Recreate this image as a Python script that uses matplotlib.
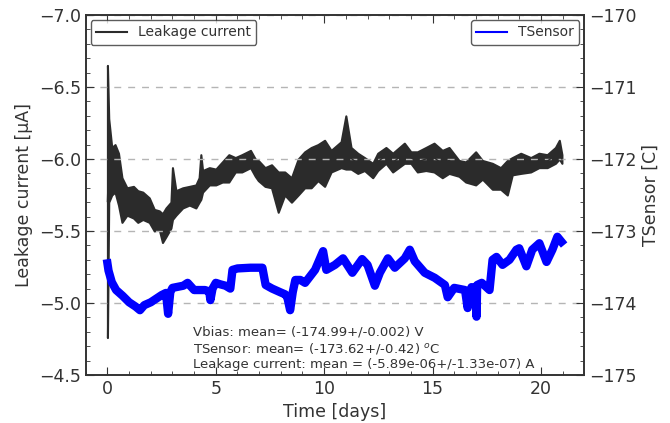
import matplotlib
matplotlib.use("Agg")
import matplotlib.pyplot as plt
from matplotlib.lines import Line2D

# leakage current band (left axis, uA): time, top edge, bottom edge
leak_t = [0.0, 0.06, 0.2, 0.35, 0.51, 0.67, 0.9, 1.2, 1.4, 1.63, 1.93, 2.16, 2.39,
          2.54, 2.7, 2.93, 3.0, 3.16, 3.47, 3.78, 4.08, 4.23, 4.31, 4.39, 4.7, 5.0,
          5.3, 5.6, 5.9, 6.2, 6.6, 6.82, 6.96, 7.27, 7.57, 7.88, 8.18, 8.49, 8.8,
          9.1, 9.4, 9.71, 10.02, 10.32, 10.78, 11.0, 11.24, 11.55, 11.86, 12.24,
          12.47, 12.85, 13.16, 13.7, 14.0, 14.3, 14.69, 15.07, 15.45, 15.76, 16.22,
          16.53, 16.99, 17.3, 17.76, 18.14, 18.45, 18.68, 19.07, 19.53, 19.91,
          20.29, 20.67, 20.85, 20.97]
leak_top = [-6.65, -6.28, -6.08, -6.10, -6.04, -5.87, -5.80, -5.81, -5.78, -5.77, -5.73,
            -5.65, -5.64, -5.62, -5.66, -5.70, -5.94, -5.78, -5.80, -5.81, -5.82, -5.87,
            -6.03, -5.92, -5.94, -5.93, -5.98, -6.03, -6.01, -6.03, -6.06, -6.00, -5.99,
            -5.94, -5.96, -5.91, -5.91, -5.87, -6.00, -6.05, -6.08, -6.10, -6.13, -6.06,
            -6.12, -6.30, -6.08, -6.04, -6.01, -5.97, -6.04, -6.08, -6.04, -6.11, -6.05,
            -6.05, -6.08, -6.11, -6.06, -6.08, -5.99, -5.98, -6.05, -5.99, -5.97, -5.94,
            -5.99, -6.01, -6.04, -6.01, -6.04, -6.03, -6.08, -6.13, -6.03]
leak_bot = [-4.76, -5.70, -5.75, -5.77, -5.68, -5.56, -5.61, -5.59, -5.56, -5.58, -5.56,
            -5.50, -5.51, -5.42, -5.46, -5.52, -5.58, -5.61, -5.66, -5.68, -5.66, -5.70,
            -5.72, -5.77, -5.82, -5.82, -5.84, -5.84, -5.91, -5.91, -5.94, -5.88, -5.85,
            -5.81, -5.80, -5.63, -5.75, -5.70, -5.75, -5.80, -5.80, -5.85, -5.81, -5.91,
            -5.94, -5.93, -5.93, -5.90, -5.92, -5.87, -5.92, -5.97, -5.91, -5.97, -5.97,
            -5.91, -5.92, -5.91, -5.87, -5.90, -5.88, -5.84, -5.82, -5.86, -5.79, -5.79,
            -5.75, -5.89, -5.90, -5.91, -5.94, -5.94, -5.97, -6.00, -5.97]

# sensor temperature (right axis, C)
temp_t = [0.0, 0.05, 0.2, 0.4, 0.7, 1.0, 1.3, 1.5, 1.7, 2.0, 2.2, 2.5, 2.7, 2.8, 2.9,
          3.0, 3.5, 3.7, 4.0, 4.5, 4.7, 4.75, 4.85, 5.0, 5.2, 5.45, 5.67, 5.77, 6.0,
          6.6, 7.15, 7.3, 7.6, 7.97, 8.2, 8.3, 8.43, 8.55, 8.67, 8.9, 9.12, 9.58,
          9.95, 10.1, 10.5, 10.87, 11.3, 11.75, 12.0, 12.34, 12.57, 12.94, 13.26,
          13.72, 13.95, 14.18, 14.64, 15.1, 15.57, 15.7, 16.0, 16.5, 16.62, 16.8,
          17.0, 17.03, 17.06, 17.27, 17.63, 17.77, 17.95, 18.23, 18.55, 18.87, 19.0,
          19.33, 19.6, 19.93, 20.26, 20.53, 20.76, 20.95]
temp = [-173.45, -173.55, -173.71, -173.82, -173.90, -173.99, -174.05, -174.10, -174.03,
        -173.99, -173.95, -173.89, -173.86, -174.15, -173.85, -173.79, -173.76, -173.72,
        -173.82, -173.82, -173.84, -173.96, -173.80, -173.72, -173.74, -173.76, -173.80,
        -173.54, -173.52, -173.51, -173.51, -173.75, -173.80, -173.85, -173.88, -173.92,
        -174.10, -173.85, -173.68, -173.68, -173.72, -173.54, -173.28, -173.54, -173.47,
        -173.38, -173.58, -173.39, -173.47, -173.76, -173.58, -173.38, -173.51, -173.38,
        -173.26, -173.42, -173.58, -173.65, -173.75, -173.92, -173.79, -173.82, -174.07,
        -173.78, -173.79, -174.19, -173.75, -173.72, -173.82, -173.40, -173.36, -173.47,
        -173.40, -173.26, -173.24, -173.49, -173.26, -173.17, -173.43, -173.26, -173.08,
        -173.15]

info_lines = ["Vbias: mean= (-174.99+/-0.002) V",
              "TSensor: mean= (-173.62+/-0.42) $^{o}$C",
              "Leakage current: mean = (-5.89e-06+/-1.33e-07) A"]

dark = "#333333"
plt.rcParams["font.family"] = "DejaVu Sans"

fig = plt.figure(figsize=(6.7, 4.23), dpi=100)
ax1 = fig.add_axes([0.128, 0.1135, 0.744, 0.851])
ax2 = ax1.twinx()

# leakage current
mid = [(a + b) / 2 for a, b in zip(leak_top, leak_bot)]
ax1.fill_between(leak_t, leak_top, leak_bot, color="#2b2b2b", lw=1.5)
ax1.plot(leak_t, mid, color="#2b2b2b", lw=1)
ax1.set_xlim(-1, 22)
ax1.set_ylim(-4.5, -7.0)
ax1.set_yticks([-7.0, -6.5, -6.0, -5.5, -5.0, -4.5])
ax1.set_yticklabels(["\u22127.0", "\u22126.5", "\u22126.0", "\u22125.5", "\u22125.0", "\u22124.5"])
ax1.set_xticks([0, 5, 10, 15, 20])
ax1.set_xticks(range(-1, 23), minor=True)
ax1.set_yticks([-7.0 + 0.1 * i for i in range(26)], minor=True)
ax1.set_xlabel("Time [days]", fontsize=12.5, color=dark)
ax1.set_ylabel("Leakage current [\u03bcA]", fontsize=12.5, color=dark)
ax1.grid(axis="y", which="major", ls=(0, (5, 5)), color="#b5b5b5", lw=1)
ax1.tick_params(which="both", direction="in", top=True, right=False,
                labelsize=12.5, colors=dark)
ax1.tick_params(which="major", length=6)
ax1.tick_params(which="minor", length=3)

# sensor temperature
ax2.plot(temp_t, temp, color="#0000ff", lw=6, solid_joinstyle="round")
ax2.set_ylim(-175, -170)
ax2.set_yticks([-170, -171, -172, -173, -174, -175])
ax2.set_yticklabels(["\u2212170", "\u2212171", "\u2212172", "\u2212173", "\u2212174", "\u2212175"])
ax2.set_yticks([-175 + 0.2 * i for i in range(26)], minor=True)
ax2.set_ylabel("TSensor [C]", fontsize=12.5, color=dark)
ax2.tick_params(which="both", direction="in", labelsize=12.5, colors=dark)
ax2.tick_params(which="major", length=6)
ax2.tick_params(which="minor", length=3)

for ax in (ax1, ax2):
    for s in ax.spines.values():
        s.set_color(dark)
        s.set_linewidth(1.2)

leg1 = ax1.legend([Line2D([], [], color="#2b2b2b", lw=1.5)], ["Leakage current"],
                  loc="upper left", fontsize=10, fancybox=True, edgecolor=dark,
                  borderaxespad=0.35, handlelength=2.2)
leg1.get_frame().set_linewidth(1)
for t in leg1.get_texts():
    t.set_color(dark)
leg2 = ax2.legend([Line2D([], [], color="#0000ff", lw=1.5)], ["TSensor"],
                  loc="upper right", fontsize=10, fancybox=True, edgecolor=dark,
                  borderaxespad=0.35, handlelength=2.2)
leg2.get_frame().set_linewidth(1)
for t in leg2.get_texts():
    t.set_color(dark)

ax1.text(0.215, 0.012, "\n".join(info_lines), transform=ax1.transAxes,
         fontsize=9.5, color=dark, va="bottom", ha="left", linespacing=1.2)

fig.savefig("out.png", dpi=100)
